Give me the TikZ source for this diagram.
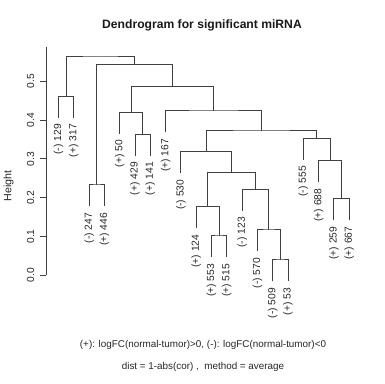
\documentclass[tikz,border=0pt]{standalone}
\usepackage{fontspec}
\setmainfont{Liberation Sans}

\tikzset{every picture/.style={line width=0.75pt}}
\tikzset{
  branch/.style={draw=black!75},
  leaflab/.style={rotate=90,anchor=east,inner xsep=4.6pt,inner ysep=0pt,text=black!85,font=\fontsize{7.7}{9}\selectfont},
  ticklab/.style={rotate=90,inner sep=0pt,text=black!85,font=\fontsize{7.7}{9}\selectfont}
}

\begin{document}
\begin{tikzpicture}[x=0.75pt,y=0.75pt,yscale=-1,xscale=1]
\useasboundingbox (0,0) rectangle (385,384);

% Leaf ends
\coordinate (v129) at (58.5,117.6);
\coordinate (v317) at (73.8,117.6);
\coordinate (v247) at (89.1,206.3);
\coordinate (v446) at (104.4,206.3);
\coordinate (v50) at (119.7,133.6);
\coordinate (v429) at (135.0,155.6);
\coordinate (v141) at (150.3,155.6);
\coordinate (v167) at (165.6,132.3);
\coordinate (v530) at (180.9,173.0);
\coordinate (v124) at (196.2,228.0);
\coordinate (v553) at (211.5,257.3);
\coordinate (v515) at (226.8,257.3);
\coordinate (v123) at (242.1,210.6);
\coordinate (v570) at (257.4,251.3);
\coordinate (v509) at (272.7,281.3);
\coordinate (v53) at (288.0,281.3);
\coordinate (v555) at (303.3,159.6);
\coordinate (v688) at (318.6,182.0);
\coordinate (v259) at (333.9,220.0);
\coordinate (v667) at (349.2,220.0);

% Merges
\coordinate (ma) at (66.15,96.3);
\coordinate (mb) at (96.75,185.0);
\coordinate (mc) at (142.65,134.3);
\coordinate (md) at (131.2,112.3);
\coordinate (me) at (219.15,236.0);
\coordinate (mf) at (207.7,206.7);
\coordinate (mg) at (280.35,260.0);
\coordinate (mh) at (268.9,230.0);
\coordinate (mi) at (255.5,189.3);
\coordinate (mj) at (231.6,172.7);
\coordinate (mk) at (206.25,151.7);
\coordinate (ml) at (341.55,198.7);
\coordinate (mm) at (330.1,160.7);
\coordinate (mn) at (316.7,138.3);
\coordinate (mo) at (261.5,131.0);
\coordinate (mp) at (213.55,111.0);
\coordinate (mq) at (172.4,86.7);
\coordinate (mr) at (134.6,64.7);
\coordinate (ms) at (100.4,57.0);

%Straight Lines
\draw [branch] (v129) |- (ma) -| (v317);
\draw [branch] (v247) |- (mb) -| (v446);
\draw [branch] (v429) |- (mc) -| (v141);
\draw [branch] (v50) |- (md) -| (mc);
\draw [branch] (v553) |- (me) -| (v515);
\draw [branch] (v124) |- (mf) -| (me);
\draw [branch] (v509) |- (mg) -| (v53);
\draw [branch] (v570) |- (mh) -| (mg);
\draw [branch] (v123) |- (mi) -| (mh);
\draw [branch] (mf) |- (mj) -| (mi);
\draw [branch] (v530) |- (mk) -| (mj);
\draw [branch] (v259) |- (ml) -| (v667);
\draw [branch] (v688) |- (mm) -| (ml);
\draw [branch] (v555) |- (mn) -| (mm);
\draw [branch] (mk) |- (mo) -| (mn);
\draw [branch] (v167) |- (mp) -| (mo);
\draw [branch] (md) |- (mq) -| (mp);
\draw [branch] (mb) |- (mr) -| (mq);
\draw [branch] (ma) |- (ms) -| (mr);

% Text Node
\node [leaflab] (t129) at (v129) {(-) 129};
\node [leaflab] (t317) at (v317) {(+) 317};
\node [leaflab] (t247) at (v247) {(-) 247};
\node [leaflab] (t446) at (v446) {(+) 446};
\node [leaflab] (t50) at (v50) {(+) 50};
\node [leaflab] (t429) at (v429) {(+) 429};
\node [leaflab] (t141) at (v141) {(+) 141};
\node [leaflab] (t167) at (v167) {(+) 167};
\node [leaflab] (t530) at (v530) {(-) 530};
\node [leaflab] (t124) at (v124) {(+) 124};
\node [leaflab] (t553) at (v553) {(+) 553};
\node [leaflab] (t515) at (v515) {(+) 515};
\node [leaflab] (t123) at (v123) {(-) 123};
\node [leaflab] (t570) at (v570) {(-) 570};
\node [leaflab] (t509) at (v509) {(-) 509};
\node [leaflab] (t53) at (v53) {(+) 53};
\node [leaflab] (t555) at (v555) {(-) 555};
\node [leaflab] (t688) at (v688) {(+) 688};
\node [leaflab] (t259) at (v259) {(+) 259};
\node [leaflab] (t667) at (v667) {(+) 667};

%Axis
\draw [branch] (46,275.3) -- (46,47);
\draw [branch] (40,275.3) -- (46,275.3);
\draw [branch] (40,236.5) -- (46,236.5);
\draw [branch] (40,197.7) -- (46,197.7);
\draw [branch] (40,158.9) -- (46,158.9);
\draw [branch] (40,120.1) -- (46,120.1);
\draw [branch] (40,81.3) -- (46,81.3);

% Text Node
\node [ticklab] (h0) at (30.5,275.3) {0.0};
\node [ticklab] (h1) at (30.5,236.5) {0.1};
\node [ticklab] (h2) at (30.5,197.7) {0.2};
\node [ticklab] (h3) at (30.5,158.9) {0.3};
\node [ticklab] (h4) at (30.5,120.1) {0.4};
\node [ticklab] (h5) at (30.5,81.3) {0.5};
\node [ticklab,font=\fontsize{8}{9}\selectfont] (ylab) at (8.5,186) {Height};

% Text Node
\node [text=black!90,font=\fontsize{9.1}{11}\selectfont\bfseries] (title) at (202,25) {Dendrogram for significant miRNA};
\node [text=black!85,font=\fontsize{7.4}{9}\selectfont] (note) at (203,345) {(+): logFC(normal-tumor)>0, (-): logFC(normal-tumor)<0};
\node [text=black!85,font=\fontsize{7.4}{9}\selectfont] (meth) at (203,366.7) {dist = 1-abs(cor) ,\ \ method = average};

\end{tikzpicture}
\end{document}
